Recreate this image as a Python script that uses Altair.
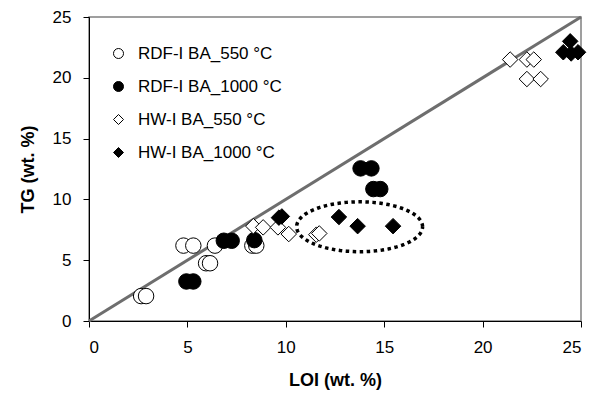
import altair as alt
import pandas as pd
import numpy as np

series_names = ["RDF-I BA_550 °C", "RDF-I BA_1000 °C", "HW-I BA_550 °C", "HW-I BA_1000 °C"]

rdf550_x = [2.65, 2.9, 4.8, 5.3, 6.4, 5.95, 6.15, 8.3, 8.5]
rdf550_y = [2.05, 2.05, 6.2, 6.2, 6.2, 4.75, 4.75, 6.2, 6.2]

rdf1000_x = [4.95, 5.3, 6.85, 7.25, 8.4, 13.8, 14.35, 14.45, 14.8]
rdf1000_y = [3.25, 3.25, 6.6, 6.6, 6.65, 12.55, 12.55, 10.85, 10.85]

hw550_x = [8.35, 8.85, 9.6, 10.15, 11.55, 11.7, 21.4, 22.25, 22.6, 22.25, 22.95]
hw550_y = [7.8, 7.7, 7.7, 7.15, 7.1, 7.2, 21.5, 21.5, 21.5, 19.9, 19.9]

hw1000_x = [9.65, 9.8, 12.7, 13.65, 15.45, 24.45, 24.1, 24.85, 24.5]
hw1000_y = [8.5, 8.6, 8.55, 7.8, 7.8, 23.0, 22.1, 22.1, 22.0]

ticks = [0, 5, 10, 15, 20, 25]

# annotation ellipse (center, semi-axes in data units)
ell_cx, ell_cy, ell_a, ell_b = 13.75, 7.75, 3.2, 2.05

rows = []
for name, xs, ys in zip(series_names,
                        [rdf550_x, rdf1000_x, hw550_x, hw1000_x],
                        [rdf550_y, rdf1000_y, hw550_y, hw1000_y]):
    for x, y in zip(xs, ys):
        rows.append({"series": name, "LOI": x, "TG": y})
df = pd.DataFrame(rows)

t = np.linspace(0, 2 * np.pi, 121)
ell = pd.DataFrame({"x": ell_cx + ell_a * np.cos(t), "y": ell_cy + ell_b * np.sin(t), "i": np.arange(len(t))})

diag = pd.DataFrame({"x": [0, 25], "y": [0, 25]})

FONT = "Liberation Sans"

xscale = alt.Scale(domain=[0, 25], nice=False)
yscale = alt.Scale(domain=[0, 25], nice=False)

xaxis = alt.Axis(values=ticks, title="LOI (wt. %)", grid=False, tickSize=6, labelPadding=12,
                 titlePadding=16, domainColor="black", tickColor="black",
                 labelFont=FONT, labelFontSize=17, labelColor="black",
                 titleFont=FONT, titleFontSize=18, titleFontWeight="bold", titleColor="black")
yaxis = alt.Axis(values=ticks, title="TG (wt. %)", grid=False, tickSize=6, labelPadding=12,
                 titlePadding=15, domainColor="black", tickColor="black",
                 labelFont=FONT, labelFontSize=17, labelColor="black",
                 titleFont=FONT, titleFontSize=18, titleFontWeight="bold", titleColor="black")

line = alt.Chart(diag).mark_line(color="#6e6e6e", strokeWidth=3).encode(
    x=alt.X("x:Q", scale=xscale, axis=xaxis),
    y=alt.Y("y:Q", scale=yscale, axis=yaxis),
)

ellipse = alt.Chart(ell).mark_line(color="black", strokeWidth=3.5, strokeDash=[3.5, 3.5], strokeCap="butt").encode(
    x=alt.X("x:Q", scale=xscale),
    y=alt.Y("y:Q", scale=yscale),
    order="i:Q",
)

legend = alt.Legend(title=None, orient="none", legendX=21, legendY=28, rowPadding=15,
                    labelOffset=11, symbolSize=100, symbolStrokeWidth=1,
                    labelFontSize=17, labelFont=FONT, labelColor="black")

pts = alt.Chart(df).mark_point(filled=True, strokeWidth=1, opacity=1, size=240).encode(
    x=alt.X("LOI:Q", scale=xscale),
    y=alt.Y("TG:Q", scale=yscale),
    shape=alt.Shape("series:N", scale=alt.Scale(domain=series_names,
                    range=["circle", "circle", "diamond", "diamond"]), legend=legend),
    fill=alt.Fill("series:N", scale=alt.Scale(domain=series_names,
                  range=["white", "black", "white", "black"]), legend=legend),
    stroke=alt.Stroke("series:N", scale=alt.Scale(domain=series_names,
                      range=["black", "black", "black", "black"]), legend=legend),
)

chart = alt.layer(line, pts, ellipse).properties(
    width=492, height=304,
    background="white",
    autosize=alt.AutoSizeParams(type="none"),
    padding={"left": 89, "top": 17, "right": 10, "bottom": 73},
).configure_view(stroke="#808080", strokeWidth=1.5)

chart.save("out.html", embed_options={"renderer": "svg", "actions": False})
